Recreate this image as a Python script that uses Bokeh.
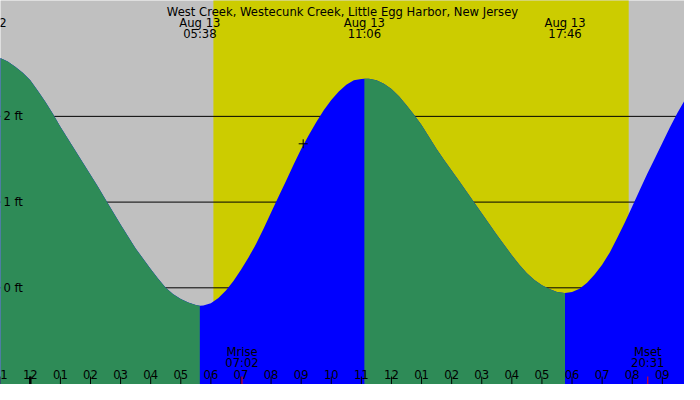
from bokeh.plotting import figure
from bokeh.models import Range1d
from bokeh.core.properties import value
from bokeh.embed import file_html
from bokeh.resources import INLINE

# ---------------- data ----------------
title_text = "West Creek, Westecunk Creek, Little Egg Harbor, New Jersey"

# tide height (ft) every quarter hour, hours since midnight Aug 13
curve_hours = [-1.0, -0.75, -0.5, -0.25, 0.0, 0.25, 0.5, 0.75, 1.0, 1.25, 1.5, 1.75,
               2.0, 2.25, 2.5, 2.75, 3.0, 3.25, 3.5, 3.75, 4.0, 4.25, 4.5, 4.75,
               5.0, 5.25, 5.5, 5.75, 6.0, 6.25, 6.5, 6.75, 7.0, 7.25, 7.5, 7.75,
               8.0, 8.25, 8.5, 8.75, 9.0, 9.25, 9.5, 9.75, 10.0, 10.25, 10.5, 10.75,
               11.0, 11.25, 11.5, 11.75, 12.0, 12.25, 12.5, 12.75, 13.0, 13.25, 13.5, 13.75,
               14.0, 14.25, 14.5, 14.75, 15.0, 15.25, 15.5, 15.75, 16.0, 16.25, 16.5, 16.75,
               17.0, 17.25, 17.5, 17.75, 18.0, 18.25, 18.5, 18.75, 19.0, 19.25, 19.5, 19.75,
               20.0, 20.25, 20.5, 20.75, 21.0, 21.25, 21.5, 21.75, 22.0]
curve_feet = [2.68, 2.64, 2.58, 2.51, 2.42, 2.30, 2.17, 2.03, 1.88, 1.74, 1.60, 1.46,
              1.32, 1.18, 1.03, 0.885, 0.74, 0.60, 0.46, 0.34, 0.22, 0.105, 0.00, -0.075,
              -0.13, -0.17, -0.20, -0.205, -0.18, -0.12, -0.03, 0.08, 0.21, 0.355, 0.51, 0.69,
              0.88, 1.065, 1.25, 1.44, 1.62, 1.78, 1.93, 2.07, 2.19, 2.29, 2.37, 2.42,
              2.437, 2.44, 2.42, 2.38, 2.32, 2.235, 2.13, 2.02, 1.90, 1.76, 1.62, 1.49,
              1.37, 1.245, 1.12, 0.995, 0.87, 0.745, 0.62, 0.50, 0.38, 0.27, 0.17, 0.09,
              0.03, -0.015, -0.05, -0.06, -0.05, -0.01, 0.06, 0.155, 0.27, 0.41, 0.58, 0.76,
              0.95, 1.14, 1.33, 1.51, 1.69, 1.87, 2.04, 2.19, 2.31]

# high / low tide events
event_dates = ["Aug 12", "Aug 13", "Aug 13", "Aug 13"]
event_times = ["22:32", "05:38", "11:06", "17:46"]
event_day = [-1, 0, 0, 0]
event_feet = [2.72, -0.21, 2.44, -0.06]

sunrise = "06:05"
sunset = "19:53"
moon_names = ["Mrise", "Mset"]
moon_times = ["07:02", "20:31"]

level_feet = [0, 1, 2]
level_labels = ["0 ft", "1 ft", "2 ft"]

tick_hours = [-1, 0, 1, 2, 3, 4, 5, 6, 7, 8, 9, 10, 11, 12, 13, 14, 15, 16, 17, 18, 19, 20, 21]
tick_labels = ["11", "12", "01", "02", "03", "04", "05", "06", "07", "08", "09", "10",
               "11", "12", "01", "02", "03", "04", "05", "06", "07", "08", "09"]

now_time = "09:04"
now_feet = 1.68

# ---------------- layout helpers (reference pixel geometry) ----------------
def hm(s, day=0):
    h, m = s.split(":")
    return day * 24 + int(h) + int(m) / 60.0

PX_MID, PX_HR = 30.5, 30.8
PY_ZERO, PY_FT = 299.3, 89.3

def hx(px):
    return (px - PX_MID) / PX_HR

def fy(py):
    return (PY_ZERO - py) / PY_FT

FONT = value("DejaVu Sans")
FS = "11.6px"

p = figure(width=684, height=384, output_backend="svg", toolbar_location=None,
           x_range=Range1d(hx(0), hx(700)), y_range=Range1d(fy(400), fy(0)),
           x_axis_location=None, y_axis_location=None, min_border=0,
           background_fill_color="#C0C0C0", border_fill_color="#C0C0C0",
           outline_line_color=None)
p.grid.visible = False

bottom = fy(400) - 1.0
top = fy(0) + 1.0

# daylight
p.quad(left=[hm(sunrise)], right=[hm(sunset)], bottom=[bottom], top=[top],
       fill_color="#CCCC00", line_color=None)

# level lines
p.segment(x0=[hx(-5)] * len(level_feet), x1=[hx(705)] * len(level_feet),
          y0=level_feet, y1=level_feet, line_color="black", line_width=1)

# water fill: rising (blue) everywhere, falling (green) drawn on top
ev_h = [hm(t, d) for t, d in zip(event_times, event_day)]
pts = sorted(list(zip(curve_hours, curve_feet)) + list(zip(ev_h, event_feet)))
all_x = [t for t, f in pts]
all_y = [f for t, f in pts]
p.varea(x=all_x, y1=[bottom] * len(all_x), y2=all_y, fill_color="#0000FF")

falling = []
for i, f in enumerate(event_feet):
    if i + 1 < len(event_feet) and f > event_feet[i + 1]:
        falling.append((ev_h[i], ev_h[i + 1]))
for a, b in falling:
    seg = [(t, f) for t, f in pts if a <= t <= b]
    xs = [t for t, f in seg]
    ys = [f for t, f in seg]
    p.varea(x=xs, y1=[bottom] * len(xs), y2=ys, fill_color="#2E8B57")

# level labels
p.text(x=[hx(3)] * len(level_feet), y=level_feet, text=level_labels,
       text_font=FONT, text_font_size=FS, text_align="left",
       text_baseline="middle", text_color="black")

# title
p.text(x=[hx(350)], y=[fy(11.7)], text=[title_text], text_font=FONT,
       text_font_size=FS, text_align="center", text_baseline="alphabetic",
       text_color="black")

# event labels (times only for events inside the view)
p.text(x=ev_h, y=[fy(23.3)] * len(ev_h), text=event_dates, text_font=FONT,
       text_font_size=FS, text_align="center", text_baseline="alphabetic",
       text_color="black")
vis = [i for i, h in enumerate(ev_h) if h >= hx(0)]
p.text(x=[ev_h[i] for i in vis], y=[fy(35.0)] * len(vis),
       text=[event_times[i] for i in vis], text_font=FONT,
       text_font_size=FS, text_align="center", text_baseline="alphabetic",
       text_color="black")

# hour ticks and labels
p.segment(x0=tick_hours, x1=tick_hours, y0=[fy(391.7)] * len(tick_hours),
          y1=[bottom] * len(tick_hours), line_color="black", line_width=1)
p.segment(x0=[0], x1=[0], y0=[fy(391.7)], y1=[bottom], line_color="black",
          line_width=2.5)
p.text(x=tick_hours, y=[fy(389.3)] * len(tick_hours), text=tick_labels,
       text_font=FONT, text_font_size=FS, text_align="center",
       text_baseline="alphabetic", text_color="black")

# moon rise / set
moon_h = [hm(t) for t in moon_times]
p.segment(x0=moon_h, x1=moon_h, y0=[fy(391.7)] * 2, y1=[bottom] * 2,
          line_color="red", line_width=1)
p.text(x=moon_h, y=[fy(366.0)] * 2, text=moon_names, text_font=FONT,
       text_font_size=FS, text_align="center", text_baseline="alphabetic",
       text_color="black")
p.text(x=moon_h, y=[fy(377.7)] * 2, text=moon_times, text_font=FONT,
       text_font_size=FS, text_align="center", text_baseline="alphabetic",
       text_color="black")

# current time marker
p.scatter(x=[hm(now_time)], y=[now_feet], marker="cross", size=9,
          line_color="black", line_width=1)

open("out.html", "w").write(file_html(p, INLINE))
